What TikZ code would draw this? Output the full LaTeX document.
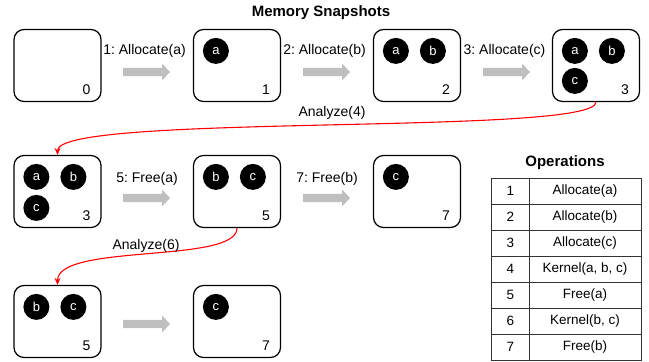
\documentclass[tikz,border=0pt]{standalone}
\usepackage{fontspec}
\setmainfont{Liberation Sans}
\frenchspacing
\usetikzlibrary{arrows.meta,calc}
\tikzset{
  snap/.style={draw=black, line width=1.2pt, rounded corners=10pt, minimum width=87pt, minimum height=72pt, inner sep=0pt},
  blk/.style={circle, fill=black, minimum size=26pt, inner sep=0pt, text=white, font=\fontsize{13}{15}\selectfont},
  numlbl/.style={font=\fontsize{14}{16}\selectfont},
  oplbl/.style={font=\fontsize{14}{16}\selectfont},
  redcurve/.style={draw=red, line width=1.1pt, -{Stealth[length=7pt,width=6pt]}},
  fatarrow/.style={fill=black!25, draw=none},
  tabline/.style={draw=black!80, line width=1pt},
  tabtxt/.style={font=\fontsize{13.5}{16}\selectfont}
}
\newcommand{\grayarrow}[3]{% name, x, y
  \coordinate (#1) at (#2,#3);
  \fill[fatarrow] ($(#1)+(0,-4.2)$) -- ++(39,0) -- ++(0,-4.3) -- ($(#1)+(47,0)$) -- ($(#1)+(39,8.5)$) -- ++(0,-4.3) -- ($(#1)+(0,4.2)$) -- cycle;
}
\begin{document}
\begin{tikzpicture}[x=1pt,y=-1pt]
\useasboundingbox (0,0) rectangle (649,362);
% title
\node[font=\bfseries\fontsize{15}{18}\selectfont] (title) at (321,13) {Memory Snapshots};
% row 1
\node[snap] (s0) at (57.5,65.5) {};
\node[snap] (s1) at (237,65.5) {};
\node[snap] (s2) at (417,65.5) {};
\node[snap] (s3) at (596,65.5) {};
% row 2
\node[snap] (t3) at (57.5,191.5) {};
\node[snap] (t5) at (237,191.5) {};
\node[snap] (t7) at (417,191.5) {};
% row 3
\node[snap] (u5) at (57.5,321.5) {};
\node[snap] (u7) at (237,321.5) {};
% numbers
\foreach \b/\n in {s0/0,s1/1,s2/2,s3/3,t3/3,t5/5,t7/7,u5/5,u7/7}{
  \node[numlbl] (\b-num) at ($(\b.south east)+(-15,-12)$) {\n};
}
% blocks
\node[blk] (s1a) at ($(s1.north west)+(23,22)$) {a};
\node[blk] (s2a) at ($(s2.north west)+(23,22)$) {a};
\node[blk] (s2b) at ($(s2.north west)+(60,22)$) {b};
\node[blk] (s3a) at ($(s3.north west)+(23,22)$) {a};
\node[blk] (s3b) at ($(s3.north west)+(60,22)$) {b};
\node[blk] (s3c) at ($(s3.north west)+(23,52)$) {c};
\node[blk] (t3a) at ($(t3.north west)+(23,22)$) {a};
\node[blk] (t3b) at ($(t3.north west)+(60,22)$) {b};
\node[blk] (t3c) at ($(t3.north west)+(23,53)$) {c};
\node[blk] (t5b) at ($(t5.north west)+(23,22)$) {b};
\node[blk] (t5c) at ($(t5.north west)+(60,22)$) {c};
\node[blk] (t7c) at ($(t7.north west)+(23,22)$) {c};
\node[blk] (u5b) at ($(u5.north west)+(23,22)$) {b};
\node[blk] (u5c) at ($(u5.north west)+(60,22)$) {c};
\node[blk] (u7c) at ($(u7.north west)+(23,22)$) {c};
% gray arrows and labels
\grayarrow{g1}{123}{72}
\grayarrow{g2}{303}{72}
\grayarrow{g3}{483}{72}
\grayarrow{g5}{123}{198}
\grayarrow{g7}{303}{198}
\grayarrow{g6}{123}{324}
\node[oplbl] (l1) at (144.5,51) {1: Allocate(a)};
\node[oplbl] (l2) at (324.5,51) {2: Allocate(b)};
\node[oplbl] (l3) at (504.5,51) {3: Allocate(c)};
\node[oplbl] (l5) at (147,179) {5: Free(a)};
\node[oplbl] (l7) at (327,179) {7: Free(b)};
% red curves
\draw[redcurve] (s3.south) .. controls ($(s3.south)+(0,34)$) and ($(t3.north)+(0,-42)$) .. (t3.north);
\node[oplbl] (an4) at (332,113) {Analyze(4)};
\draw[redcurve] (t5.south) .. controls ($(t5.south)+(0,36)$) and ($(u5.north)+(0,-42)$) .. (u5.north);
\node[oplbl] (an6) at (146,246) {Analyze(6)};
% operations table
\node[font=\bfseries\fontsize{15}{18}\selectfont] (optitle) at (565,163) {Operations};
\foreach \i/\t in {1/Allocate(a),2/Allocate(b),3/Allocate(c),4/{Kernel(a, b, c)},5/Free(a),6/{Kernel(b, c)},7/Free(b)}{
  \node[tabtxt] (k\i) at (510.5,{178+26*\i-13}) {\i};
  \node[tabtxt] (v\i) at (585,{178+26*\i-13}) {\t};
}
\draw[tabline] (491,178) rectangle (641,360);
\draw[tabline] (529,178) -- (529,360);
\foreach \i in {1,...,6}{
  \draw[tabline] (491,{178+26*\i}) -- (641,{178+26*\i});
}
\end{tikzpicture}
\end{document}
